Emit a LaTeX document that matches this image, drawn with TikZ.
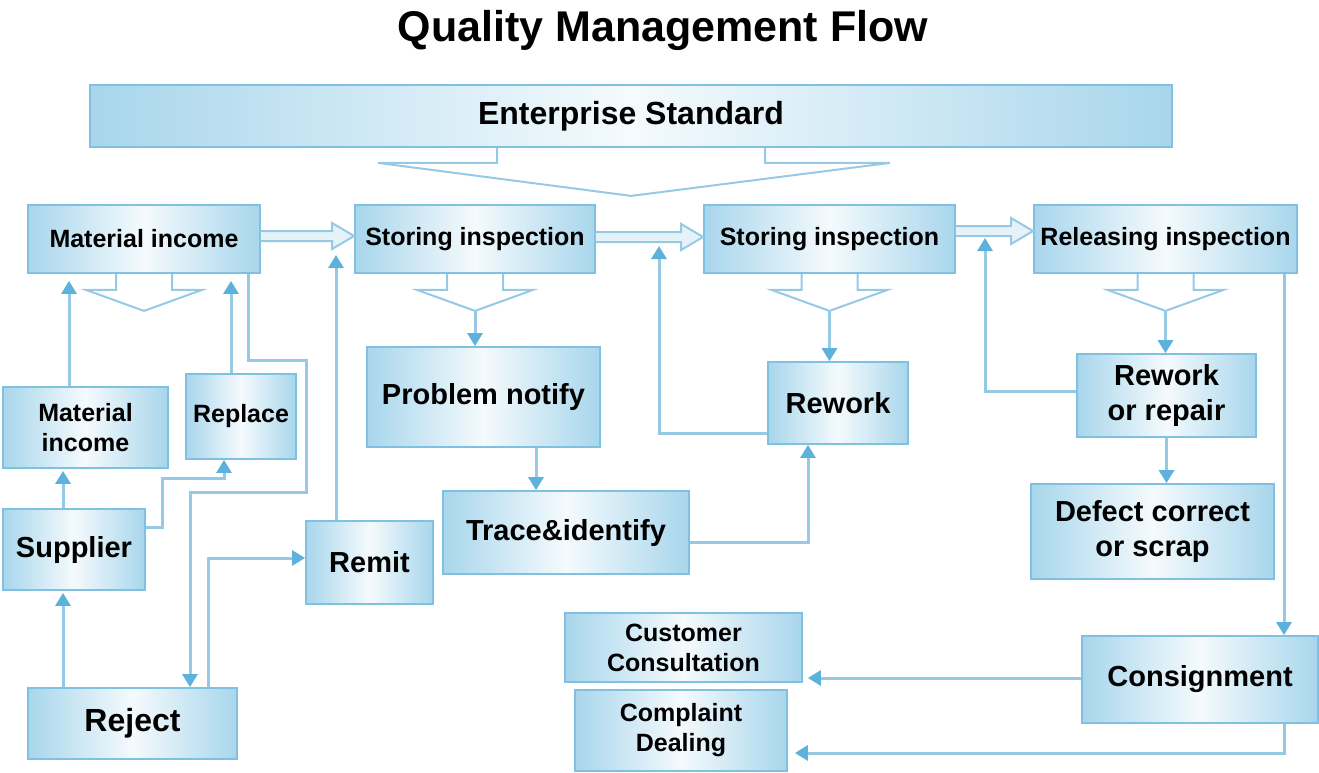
\documentclass[tikz,border=0pt]{standalone}
\usepackage{fontspec}
\setmainfont{Liberation Sans}
\usetikzlibrary{arrows.meta}
\definecolor{boxline}{RGB}{128,192,224}
\definecolor{boxfill}{RGB}{168,214,236}
\definecolor{wireline}{RGB}{150,202,228}
\definecolor{tipblue}{RGB}{92,178,218}

\begin{document}
\begin{tikzpicture}[x=1pt, y=-1pt,
        stage/.style={draw=boxline, line width=1.8pt, left color=boxfill, right color=boxfill, middle color=boxfill!12, inner sep=0pt, align=center},
        big/.style={font=\bfseries\fontsize{29}{35}\selectfont},
        mid/.style={font=\bfseries\fontsize{25}{30}\selectfont},
        wire/.style={draw=wireline, line width=3pt},
        link/.style={wire, -{Triangle[width=15pt, length=13pt, color=tipblue]}},
        funnel/.style={draw=wireline, line width=2pt},
        hollow/.style={draw=wireline, line width=2pt, fill=boxfill!30}]
                \useasboundingbox (0,0) rectangle (1319,773);
                \node[font=\bfseries\fontsize{43}{50}\selectfont] (title) at (663,30) {Quality Management Flow};
                \node[stage, font=\bfseries\fontsize{32}{38}\selectfont, minimum width=1082pt, minimum height=62pt] (ent) at (631,116) {Enterprise Standard};

                \node[stage, mid, minimum width=232pt, minimum height=68pt] (mi) at (144,239) {Material income};
                \node[stage, mid, minimum width=240pt, minimum height=68pt] (si1) at (475,239) {Storing inspection};
                \node[stage, mid, minimum width=251pt, minimum height=68pt] (si2) at (829.5,239) {Storing inspection};
                \node[stage, mid, minimum width=263pt, minimum height=68pt] (ri) at (1165.5,239) {Releasing inspection};

                \node[stage, mid, minimum width=165pt, minimum height=81pt] (mi2) at (85.5,427.5) {Material\\income};
                \node[stage, mid, minimum width=110pt, minimum height=85pt] (rp) at (241,416.5) {Replace};
                \node[stage, big, minimum width=142pt, minimum height=81pt] (su) at (74,549.5) {Supplier};
                \node[stage, font=\bfseries\fontsize{32}{38}\selectfont, minimum width=209pt, minimum height=71pt] (rj) at (132.5,723.5) {Reject};
                \node[stage, big, minimum width=127pt, minimum height=83pt] (rm) at (369.5,562.5) {Remit};

                \node[stage, big, minimum width=233pt, minimum height=100pt] (pn) at (483.5,397) {Problem notify};
                \node[stage, big, minimum width=246pt, minimum height=83pt] (ti) at (566,532.5) {Trace\&identify};
                \node[stage, big, minimum width=140pt, minimum height=82pt] (rw) at (838,403) {Rework};
                \node[stage, big, minimum width=179pt, minimum height=83pt] (rr) at (1166.5,395.5) {Rework\\or repair};
                \node[stage, big, minimum width=243pt, minimum height=95pt] (dc) at (1152.5,531.5) {Defect correct\\or scrap};
                \node[stage, big, minimum width=236pt, minimum height=87pt] (cs) at (1200,679.5) {Consignment};
                \node[stage, mid, minimum width=237pt, minimum height=69pt] (cc) at (683.5,647.5) {Customer\\Consultation};
                \node[stage, mid, minimum width=212pt, minimum height=81pt] (cd) at (681,730.5) {Complaint\\Dealing};

                \draw[funnel] ([xshift=-134pt]ent.south) -- ++(0,15) -- ++(-119,0) -- ([yshift=-48pt]ent.south) -- ([xshift=259pt, yshift=-15pt]ent.south) -- ++(-125,0) -- ++(0,-15);
                \foreach \b in {mi, si1, si2, ri}
                    \draw[funnel] ([xshift=-28pt]\b.south) -- ++(0,16) -- ++(-30,0) -- ([yshift=-37pt]\b.south) coordinate (\b-tip) -- ([xshift=58pt, yshift=-16pt]\b.south) -- ++(-30,0) -- ++(0,-16);
                \foreach \a/\b/\s in {mi/si1/3, si1/si2/2, si2/ri/8}
                    \draw[hollow] ([yshift={(\s+5)*1pt}]\a.east) -- ([xshift=-22pt, yshift={(\s+5)*1pt}]\b.west) -- ++(0,-8) -- ([yshift=\s*1pt]\b.west) -- ([xshift=-22pt, yshift={(\s-13)*1pt}]\b.west) -- ++(0,-8) -- ([yshift={(\s-5)*1pt}]\a.east);

                \coordinate (p1) at ([xshift=-16.5pt]mi2.north);
                \coordinate (p2) at ([xshift=-10pt]rp.north);
                \coordinate (p3) at ([xshift=-11pt]su.north);
                \coordinate (p7) at ([xshift=-69.5pt]rj.north);
                \coordinate (p11) at ([xshift=52.5pt]pn.south);
                \coordinate (p14) at ([xshift=118.5pt]ri.south);
                \coordinate (p15) at ([yshift=1.5pt]cs.west);
                \coordinate (t1) at (336,255);
                \coordinate (t2) at (659,246);
                \coordinate (t3) at (985,238);

                \draw[link, shorten >=7pt] (p1) -- (p1 |- mi.south);
                \draw[link, shorten >=7pt] (p2) -- (p2 |- mi.south);
                \draw[link, shorten >=2pt] (p3) -- (p3 |- mi2.south);
                \draw[link] ([yshift=22.5pt]su.east) -| ++(17,-49) -| ([xshift=-17pt]rp.south);
                \draw[link] ([xshift=104pt]mi.south) |- ++(58,87) |- ++(-116,132) -- ([xshift=57.5pt]rj.north);
                \draw[link] ([xshift=75.5pt]rj.north) |- ([yshift=4.5pt]rm.west);
                \draw[link, shorten >=2pt] (p7) -- (p7 |- su.south);
                \draw[link] (rm.north -| t1) -- (t1);
                \draw[link] (si1-tip) -- (si1-tip |- pn.north);
                \draw[link] (p11) -- (p11 |- ti.north);
                \draw[link] ([yshift=-9.5pt]ti.east) -| ([xshift=-30pt]rw.south);
                \draw[link] ([yshift=-30pt]rw.west) -| (t2);
                \draw[link] (si2-tip) -- (si2-tip |- rw.north);
                \draw[link] (ri-tip) -- (ri-tip |- rr.north);
                \draw[link] ([yshift=4.5pt]rr.west) -| (t3);
                \draw[link] (rr.south) -- (rr.south |- dc.north);
                \draw[link] (p14) -- (p14 |- cs.north);
                \draw[link, shorten >=5pt] (p15) -- (p15 -| cc.east);
                \draw[link, shorten >=7pt] (p14 |- cs.south) |- ([yshift=-22.5pt]cd.east);
            \end{tikzpicture}
\end{document}
